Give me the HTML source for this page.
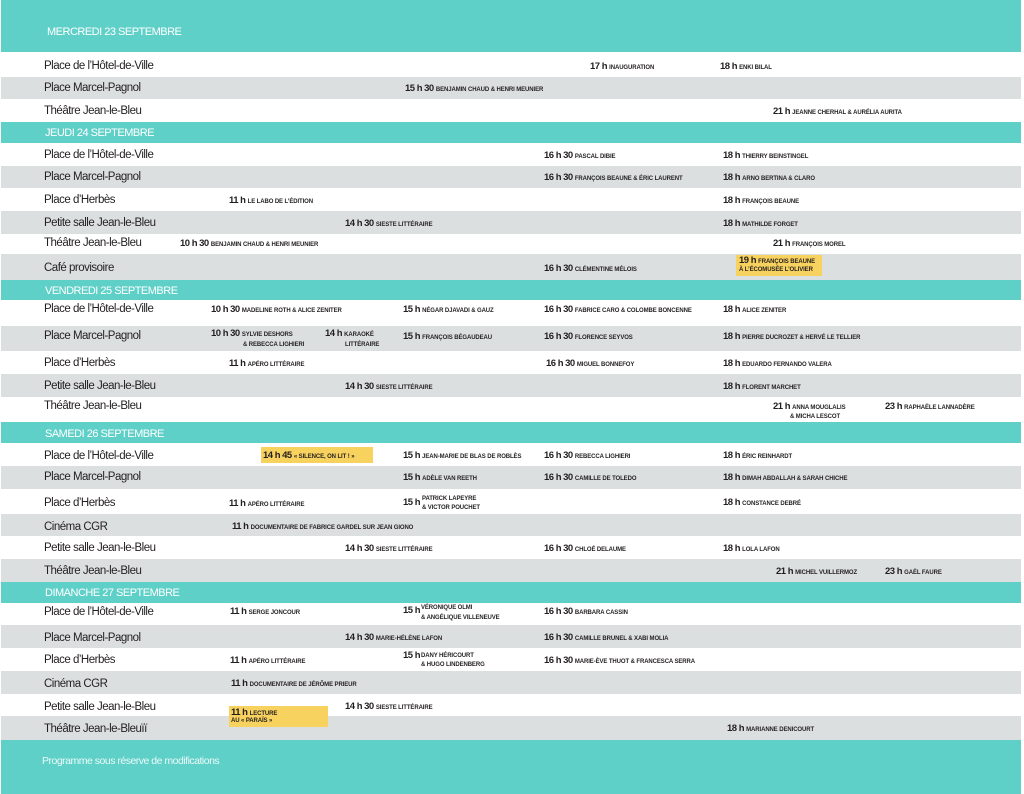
<!DOCTYPE html>
<html><head><meta charset="utf-8">
<style>
*{margin:0;padding:0;box-sizing:border-box}
body{width:1024px;height:794px;background:#fff;position:relative;overflow:hidden;font-family:"Liberation Sans",sans-serif;color:#231f20}
.b{position:absolute;left:1px;width:1020px}
.t{background:#5fd0c8}
.g{background:#dcdfe0}
.w{background:#fff}
.h{position:absolute;color:#fff;font-size:11px;letter-spacing:-0.5px;line-height:12px;white-space:nowrap}
.v{position:absolute;left:44px;font-size:11.5px;letter-spacing:-0.5px;line-height:12px;white-space:nowrap}
.e{position:absolute;font-size:9.5px;font-weight:bold;letter-spacing:-0.5px;line-height:10px;white-space:nowrap}
.e i{font-style:normal;font-size:6px;letter-spacing:-0.1px}
.s{position:absolute;font-size:6px;font-weight:bold;letter-spacing:-0.1px;line-height:8px;white-space:nowrap}
.y{position:absolute;background:#f8d25e}
</style></head><body>
<div class="b t" style="top:0;height:52px"></div>
<div class="b w" style="top:52px;height:25px"></div>
<div class="b g" style="top:77px;height:22px"></div>
<div class="b w" style="top:99px;height:23px"></div>
<div class="b t" style="top:122px;height:21px"></div>
<div class="b w" style="top:143px;height:23px"></div>
<div class="b g" style="top:166px;height:22px"></div>
<div class="b w" style="top:188px;height:23px"></div>
<div class="b g" style="top:211px;height:23px"></div>
<div class="b w" style="top:234px;height:20px"></div>
<div class="b g" style="top:254px;height:26px"></div>
<div class="b t" style="top:280px;height:20px"></div>
<div class="b w" style="top:300px;height:26px"></div>
<div class="b g" style="top:326px;height:25px"></div>
<div class="b w" style="top:351px;height:23px"></div>
<div class="b g" style="top:374px;height:23px"></div>
<div class="b w" style="top:397px;height:25px"></div>
<div class="b t" style="top:422px;height:21px"></div>
<div class="b w" style="top:443px;height:23px"></div>
<div class="b g" style="top:466px;height:23px"></div>
<div class="b w" style="top:489px;height:25px"></div>
<div class="b g" style="top:514px;height:22px"></div>
<div class="b w" style="top:536px;height:23px"></div>
<div class="b g" style="top:559px;height:23px"></div>
<div class="b t" style="top:582px;height:21px"></div>
<div class="b w" style="top:603px;height:22px"></div>
<div class="b g" style="top:625px;height:23px"></div>
<div class="b w" style="top:648px;height:23px"></div>
<div class="b g" style="top:671px;height:23px"></div>
<div class="b w" style="top:694px;height:22px"></div>
<div class="b g" style="top:716px;height:24px"></div>
<div class="b t" style="top:740px;height:54px"></div>

<div class="h" style="left:47px;top:26px">MERCREDI 23 SEPTEMBRE</div>
<div class="h" style="left:45px;top:127px">JEUDI 24 SEPTEMBRE</div>
<div class="h" style="left:45px;top:285px">VENDREDI 25 SEPTEMBRE</div>
<div class="h" style="left:45px;top:428px">SAMEDI 26 SEPTEMBRE</div>
<div class="h" style="left:45px;top:587px">DIMANCHE 27 SEPTEMBRE</div>
<div class="h" style="left:42px;top:755px;font-size:10.5px;color:#eafaf8">Programme sous réserve de modifications</div>

<div class="v" style="top:60px">Place de l’Hôtel-de-Ville</div>
<div class="v" style="top:82px">Place Marcel-Pagnol</div>
<div class="v" style="top:105px">Théâtre Jean-le-Bleu</div>
<div class="v" style="top:149px">Place de l’Hôtel-de-Ville</div>
<div class="v" style="top:171px">Place Marcel-Pagnol</div>
<div class="v" style="top:194px">Place d’Herbès</div>
<div class="v" style="top:217px">Petite salle Jean-le-Bleu</div>
<div class="v" style="top:237px">Théâtre Jean-le-Bleu</div>
<div class="v" style="top:262px">Café provisoire</div>
<div class="v" style="top:303px">Place de l’Hôtel-de-Ville</div>
<div class="v" style="top:330px">Place Marcel-Pagnol</div>
<div class="v" style="top:357px">Place d’Herbès</div>
<div class="v" style="top:380px">Petite salle Jean-le-Bleu</div>
<div class="v" style="top:400px">Théâtre Jean-le-Bleu</div>
<div class="v" style="top:450px">Place de l’Hôtel-de-Ville</div>
<div class="v" style="top:471px">Place Marcel-Pagnol</div>
<div class="v" style="top:497px">Place d’Herbès</div>
<div class="v" style="top:521px">Cinéma CGR</div>
<div class="v" style="top:542px">Petite salle Jean-le-Bleu</div>
<div class="v" style="top:565px">Théâtre Jean-le-Bleu</div>
<div class="v" style="top:606px">Place de l’Hôtel-de-Ville</div>
<div class="v" style="top:632px">Place Marcel-Pagnol</div>
<div class="v" style="top:654px">Place d’Herbès</div>
<div class="v" style="top:678px">Cinéma CGR</div>
<div class="v" style="top:701px">Petite salle Jean-le-Bleu</div>
<div class="v" style="top:723px">Théâtre Jean-le-Bleuïï</div>

<div class="y" style="left:736px;top:255px;width:86px;height:21px"></div>
<div class="y" style="left:261px;top:447px;width:112px;height:16px"></div>
<div class="y" style="left:229px;top:706px;width:99px;height:21px"></div>

<div class="e" style="left:590px;top:62px">17 h <i>INAUGURATION</i></div>
<div class="e" style="left:720px;top:62px">18 h <i>ENKI BILAL</i></div>
<div class="e" style="left:405px;top:84px">15 h 30 <i>BENJAMIN CHAUD &amp; HENRI MEUNIER</i></div>
<div class="e" style="left:773px;top:107px">21 h <i>JEANNE CHERHAL &amp; AURÉLIA AURITA</i></div>

<div class="e" style="left:544px;top:151px">16 h 30 <i>PASCAL DIBIE</i></div>
<div class="e" style="left:723px;top:151px">18 h <i>THIERRY BEINSTINGEL</i></div>
<div class="e" style="left:544px;top:173px">16 h 30 <i>FRANÇOIS BEAUNE &amp; ÉRIC LAURENT</i></div>
<div class="e" style="left:723px;top:173px">18 h <i>ARNO BERTINA &amp; CLARO</i></div>
<div class="e" style="left:229px;top:196px">11 h <i>LE LABO DE L’ÉDITION</i></div>
<div class="e" style="left:723px;top:196px">18 h <i>FRANÇOIS BEAUNE</i></div>
<div class="e" style="left:345px;top:219px">14 h 30 <i>SIESTE LITTÉRAIRE</i></div>
<div class="e" style="left:723px;top:219px">18 h <i>MATHILDE FORGET</i></div>
<div class="e" style="left:180px;top:239px">10 h 30 <i>BENJAMIN CHAUD &amp; HENRI MEUNIER</i></div>
<div class="e" style="left:773px;top:239px">21 h <i>FRANÇOIS MOREL</i></div>
<div class="e" style="left:544px;top:264px">16 h 30 <i>CLÉMENTINE MÉLOIS</i></div>
<div class="e" style="left:739px;top:256px">19 h <i>FRANÇOIS BEAUNE</i></div>
<div class="s" style="left:739px;top:266px">À L’ÉCOMUSÉE L’OLIVIER</div>

<div class="e" style="left:211px;top:305px">10 h 30 <i>MADELINE ROTH &amp; ALICE ZENITER</i></div>
<div class="e" style="left:403px;top:305px">15 h <i>NÉGAR DJAVADI &amp; GAUZ</i></div>
<div class="e" style="left:544px;top:305px">16 h 30 <i>FABRICE CARO &amp; COLOMBE BONCENNE</i></div>
<div class="e" style="left:723px;top:305px">18 h <i>ALICE ZENITER</i></div>
<div class="e" style="left:211px;top:329px">10 h 30 <i>SYLVIE DESHORS</i></div>
<div class="s" style="left:243px;top:341px">&amp; REBECCA LIGHIERI</div>
<div class="e" style="left:325px;top:329px">14 h <i>KARAOKÉ</i></div>
<div class="s" style="left:345px;top:341px">LITTÉRAIRE</div>
<div class="e" style="left:403px;top:332px">15 h <i>FRANÇOIS BÉGAUDEAU</i></div>
<div class="e" style="left:544px;top:332px">16 h 30 <i>FLORENCE SEYVOS</i></div>
<div class="e" style="left:723px;top:332px">18 h <i>PIERRE DUCROZET &amp; HERVÉ LE TELLIER</i></div>
<div class="e" style="left:229px;top:359px">11 h <i>APÉRO LITTÉRAIRE</i></div>
<div class="e" style="left:546px;top:359px">16 h 30 <i>MIGUEL BONNEFOY</i></div>
<div class="e" style="left:723px;top:359px">18 h <i>EDUARDO FERNANDO VALERA</i></div>
<div class="e" style="left:345px;top:382px">14 h 30 <i>SIESTE LITTÉRAIRE</i></div>
<div class="e" style="left:723px;top:382px">18 h <i>FLORENT MARCHET</i></div>
<div class="e" style="left:773px;top:402px">21 h <i>ANNA MOUGLALIS</i></div>
<div class="s" style="left:790px;top:413px">&amp; MICHA LESCOT</div>
<div class="e" style="left:885px;top:402px">23 h <i>RAPHAËLE LANNADÈRE</i></div>

<div class="e" style="left:263px;top:451px">14 h 45 <i>« SILENCE, ON LIT ! »</i></div>
<div class="e" style="left:403px;top:451px">15 h <i>JEAN-MARIE DE BLAS DE ROBLÈS</i></div>
<div class="e" style="left:544px;top:451px">16 h 30 <i>REBECCA LIGHIERI</i></div>
<div class="e" style="left:723px;top:451px">18 h <i>ÉRIC REINHARDT</i></div>
<div class="e" style="left:403px;top:473px">15 h <i>ADÈLE VAN REETH</i></div>
<div class="e" style="left:544px;top:473px">16 h 30 <i>CAMILLE DE TOLEDO</i></div>
<div class="e" style="left:723px;top:473px">18 h <i>DIMAH ABDALLAH &amp; SARAH CHICHE</i></div>
<div class="e" style="left:229px;top:499px">11 h <i>APÉRO LITTÉRAIRE</i></div>
<div class="e" style="left:403px;top:498px">15 h</div>
<div class="s" style="left:422px;top:495px">PATRICK LAPEYRE</div>
<div class="s" style="left:422px;top:504px">&amp; VICTOR POUCHET</div>
<div class="e" style="left:723px;top:498px">18 h <i>CONSTANCE DEBRÉ</i></div>
<div class="e" style="left:232px;top:522px">11 h <i>DOCUMENTAIRE DE FABRICE GARDEL SUR JEAN GIONO</i></div>
<div class="e" style="left:345px;top:544px">14 h 30 <i>SIESTE LITTÉRAIRE</i></div>
<div class="e" style="left:544px;top:544px">16 h 30 <i>CHLOÉ DELAUME</i></div>
<div class="e" style="left:723px;top:544px">18 h <i>LOLA LAFON</i></div>
<div class="e" style="left:776px;top:567px">21 h <i>MICHEL VUILLERMOZ</i></div>
<div class="e" style="left:885px;top:567px">23 h <i>GAËL FAURE</i></div>

<div class="e" style="left:230px;top:607px">11 h <i>SERGE JONCOUR</i></div>
<div class="e" style="left:403px;top:606px">15 h</div>
<div class="s" style="left:421px;top:604px">VÉRONIQUE OLMI</div>
<div class="s" style="left:421px;top:614px">&amp; ANGÉLIQUE VILLENEUVE</div>
<div class="e" style="left:544px;top:607px">16 h 30 <i>BARBARA CASSIN</i></div>
<div class="e" style="left:345px;top:633px">14 h 30 <i>MARIE-HÉLÈNE LAFON</i></div>
<div class="e" style="left:544px;top:633px">16 h 30 <i>CAMILLE BRUNEL &amp; XABI MOLIA</i></div>
<div class="e" style="left:230px;top:656px">11 h <i>APÉRO LITTÉRAIRE</i></div>
<div class="e" style="left:403px;top:651px">15 h</div>
<div class="s" style="left:421px;top:652px">DANY HÉRICOURT</div>
<div class="s" style="left:421px;top:661px">&amp; HUGO LINDENBERG</div>
<div class="e" style="left:544px;top:656px">16 h 30 <i>MARIE-ÈVE THUOT &amp; FRANCESCA SERRA</i></div>
<div class="e" style="left:231px;top:679px">11 h <i>DOCUMENTAIRE DE JÉRÔME PRIEUR</i></div>
<div class="e" style="left:231px;top:708px">11 h <i>LECTURE</i></div>
<div class="s" style="left:231px;top:717px">AU « PARAÏS »</div>
<div class="e" style="left:345px;top:702px">14 h 30 <i>SIESTE LITTÉRAIRE</i></div>
<div class="e" style="left:727px;top:724px">18 h <i>MARIANNE DENICOURT</i></div>
</body></html>
